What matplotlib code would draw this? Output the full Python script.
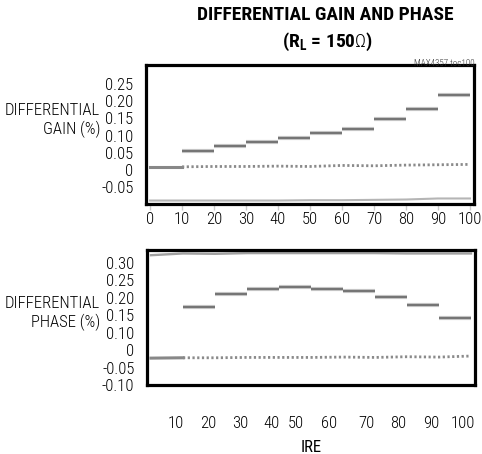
import matplotlib.pyplot as plt
from matplotlib import font_manager

# IRE step edges shared by both traces
ire_edges = [0, 10, 20, 30, 40, 50, 60, 70, 80, 90, 100]

# differential gain (%)
gain_steps = [0.0555, 0.070, 0.082, 0.094, 0.108, 0.119, 0.147, 0.178, 0.218]
gain_ref = [0.009, 0.009, 0.010, 0.010, 0.011, 0.010, 0.013, 0.012, 0.014, 0.015, 0.016]
gain_floor = [-0.089, -0.089, -0.089, -0.089, -0.089, -0.088, -0.088, -0.087, -0.086, -0.083, -0.083]
gain_ticks = [-0.05, 0, 0.05, 0.10, 0.15, 0.20, 0.25]
gain_ticklabels = ["-0.05", "0", "0.05", "0.10", "0.15", "0.20", "0.25"]

# differential phase
phase_steps = [0.124, 0.162, 0.176, 0.182, 0.176, 0.168, 0.152, 0.128, 0.092]
phase_ref = [-0.023, -0.022, -0.022, -0.021, -0.021, -0.021, -0.020, -0.021, -0.019, -0.020, -0.017]
phase_top = [0.272, 0.277, 0.276, 0.278, 0.278, 0.278, 0.278, 0.278, 0.277, 0.277, 0.277]
phase_ticks = [-0.10, -0.05, 0, 0.05, 0.10, 0.15, 0.20, 0.25]
phase_ticklabels = ["-0.10", "-0.05", "0", "0.10", "0.15", "0.20", "0.25", "0.30"]
phase_xlabels = ["10", "20", "30", "40", "50", "60", "70", "80", "90", "100"]
phase_xpos = [7.8, 17.8, 27.8, 37.8, 45.3, 55.6, 67.2, 77.2, 87.5, 97.5]

names = {f.name for f in font_manager.fontManager.ttflist}
fam = "Roboto Condensed" if "Roboto Condensed" in names else "Liberation Sans"
plt.rcParams["font.family"] = [fam, "DejaVu Sans"]
plt.rcParams["font.weight"] = 300
plt.rcParams["mathtext.fontset"] = "custom"
plt.rcParams["mathtext.rm"] = fam
plt.rcParams["mathtext.bf"] = fam + ":bold"

fig = plt.figure(figsize=(4.82, 4.54), dpi=100)
ax1 = fig.add_axes([0.3029, 0.5507, 0.6805, 0.3062])
ax2 = fig.add_axes([0.305, 0.152, 0.6805, 0.2974])

trace = "#666666"


def draw_steps(ax, steps):
    ax.hlines(steps, ire_edges[1:-1], ire_edges[2:], colors="#c4c4c4", linewidth=3.0)
    ax.hlines(steps, ire_edges[1:-1], ire_edges[2:], colors=trace, linewidth=1.2)


def draw_ref(ax, ref):
    ax.plot(ire_edges[:2], ref[:2], color="#888888", linewidth=2.2)
    ax.plot(ire_edges[1:], ref[1:], color="#8a8a8a", linewidth=2.0, dashes=(0.8, 0.9))


for ax in (ax1, ax2):
    ax.set_xlim(-1.25, 101.25)
    for s in ax.spines.values():
        s.set_linewidth(2.3)
    ax.tick_params(axis="y", length=0, labelsize=12, pad=9)

# top: gain
draw_steps(ax1, gain_steps)
draw_ref(ax1, gain_ref)
ax1.plot(ire_edges, gain_floor, color="#b5b5b5", linewidth=1.5)
ax1.set_ylim(-0.099, 0.305)
ax1.set_yticks(gain_ticks)
ax1.set_yticklabels(gain_ticklabels)
ax1.set_xticks(ire_edges)
ax1.set_xticklabels([str(v) for v in ire_edges])
ax1.tick_params(axis="x", length=4, width=1, color="#cccccc", labelsize=12, pad=2)

# bottom: phase
draw_steps(ax2, phase_steps)
draw_ref(ax2, phase_ref)
ax2.plot(ire_edges, phase_top, color="#a0a0a0", linewidth=1.7)
ax2.set_ylim(-0.098, 0.287)
ax2.set_yticks(phase_ticks)
ax2.set_yticklabels(phase_ticklabels)
ax2.set_xticks(phase_xpos)
ax2.set_xticklabels(phase_xlabels)
ax2.tick_params(axis="x", length=0, labelsize=12, pad=22)
ax2.set_xlabel("IRE", fontsize=12, labelpad=6.5)

fig.text(0.2075, 0.735, "DIFFERENTIAL\nGAIN (%)", ha="right", va="center",
         fontsize=12, linespacing=1.2, multialignment="right")
fig.text(0.2075, 0.310, "DIFFERENTIAL\nPHASE (%)", ha="right", va="center",
         fontsize=12, linespacing=1.2, multialignment="right")

fig.text(0.675, 0.967, "DIFFERENTIAL GAIN AND PHASE", ha="center", va="center",
         fontsize=14, fontweight="bold")
fig.text(0.68, 0.907, r"(R$_\mathbf{L}$ = 150$\Omega$)", ha="center", va="center",
         fontsize=14, fontweight="bold")
fig.text(0.985, 0.861, "MAX4357 toc100", ha="right", va="center", fontsize=6.5, color="#333333")

fig.savefig("out.png", dpi=100)
